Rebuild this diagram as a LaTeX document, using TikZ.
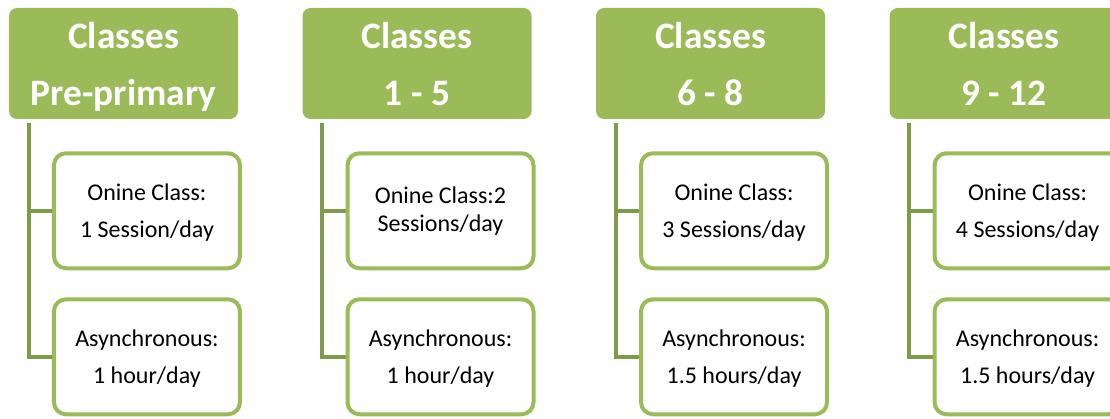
\documentclass[tikz,border=0pt]{standalone}
\usepackage{fontspec}
\setmainfont{Carlito}
\usetikzlibrary{positioning}

\definecolor{leafgreen}{HTML}{9BBB59}
\definecolor{stemgreen}{HTML}{7F9A48}

\tikzset{
  grade/.style={fill=leafgreen, text=white, rounded corners=6pt,
    minimum width=171.75pt, minimum height=83.25pt, inner sep=0pt,
    text depth=0pt, align=center,
    font=\fontsize{28}{42.75}\selectfont\bfseries},
  mode/.style={draw=leafgreen, line width=3pt, fill=white, rounded corners=9pt,
    minimum width=139.5pt, minimum height=86.25pt, inner sep=0pt,
    text depth=0pt, align=center, font=\fontsize{18}{27.75}\selectfont},
  stem/.style={draw=stemgreen, line width=3pt}
}

\begin{document}
\begin{tikzpicture}[x=0.75pt,y=0.75pt]
  \useasboundingbox (0,0) rectangle (1110,418);

  % class groups
  \node[grade] (h1) at (123.5,354.5) {Classes\\Pre-primary};
  \node[grade, right=48pt of h1] (h2) {Classes\\1 - 5};
  \node[grade, right=48pt of h2] (h3) {Classes\\6 - 8};
  \node[grade, right=48pt of h3] (h4) {Classes\\9 - 12};

  % online sessions and async work under each group
  \node[mode, below=24pt of h1, xshift=17.6pt] (o1) {Onine Class:\\1 Session/day};
  \node[mode, below=20.25pt of o1] (a1) {Asynchronous:\\1 hour/day};
  \node[mode, below=24pt of h2, xshift=17.6pt, text depth=,
    font=\fontsize{18}{21}\selectfont] (o2) {Onine Class:2\\Sessions/day};
  \node[mode, below=20.25pt of o2] (a2) {Asynchronous:\\1 hour/day};
  \node[mode, below=24pt of h3, xshift=17.6pt] (o3) {Onine Class:\\3 Sessions/day};
  \node[mode, below=20.25pt of o3] (a3) {Asynchronous:\\1.5 hours/day};
  \node[mode, below=24pt of h4, xshift=17.6pt] (o4) {Onine Class:\\4 Sessions/day};
  \node[mode, below=20.25pt of o4] (a4) {Asynchronous:\\1.5 hours/day};

  % stems
  \foreach \i in {1,...,4} {
    \coordinate (s\i) at ([xshift=15pt,yshift=-3pt]h\i.south west);
    \draw[stem] (s\i) |- (a\i.west);
    \draw[stem] (s\i |- o\i.west) -- (o\i.west);
  }
\end{tikzpicture}
\end{document}
